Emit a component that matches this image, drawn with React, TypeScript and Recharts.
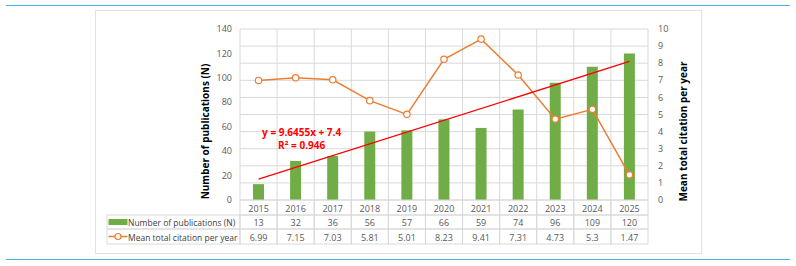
import React from 'react';
import {
  ComposedChart, Bar, Line, XAxis, YAxis, CartesianGrid, ReferenceLine, ReferenceDot,
} from 'recharts';

const years = ['2015', '2016', '2017', '2018', '2019', '2020', '2021', '2022', '2023', '2024', '2025'];
const publications = [13, 32, 36, 56, 57, 66, 59, 74, 96, 109, 120];
const citations = [6.99, 7.15, 7.03, 5.81, 5.01, 8.23, 9.41, 7.31, 4.73, 5.3, 1.47];
const leftTicks = [0, 20, 40, 60, 80, 100, 120, 140];
const rightTicks = [0, 1, 2, 3, 4, 5, 6, 7, 8, 9, 10];
const trendSlope = 9.6455;
const trendIntercept = 7.4;
const trendR2 = '0.946';
const pubLabel = 'Number of publications (N)';
const citLabel = 'Mean total citation per year';

const data = years.map((year, i) => ({ year, publications: publications[i], citations: citations[i] }));
const trendStart = trendSlope * 1 + trendIntercept;
const trendEnd = trendSlope * years.length + trendIntercept;

const GREEN = '#70AD47';
const ORANGE = '#ED7D31';
const RED = '#FF0000';
const GRID = '#d9d9d9';
const TICK = '#595959';
const DARK = '#404040';
const FONT = "'Open Sans', sans-serif";
const LEG_W = 133;

function bandWidth(props: any) {
  const off = props.payload && props.payload.offset;
  if (off) return off * 2;
  return props.width / years.length;
}

function YearTick(props: any) {
  const { x, y, payload } = props;
  const bw = bandWidth(props);
  const h = 15;
  return (
    <g>
      <rect x={x - bw / 2} y={y} width={bw} height={h} fill="none" stroke={GRID} strokeWidth={1} />
      <text x={x} y={y + h / 2 + 0.5} textAnchor="middle" dominantBaseline="central" fontFamily={FONT} fontSize={9} fill={TICK}>
        {payload.value}
      </text>
    </g>
  );
}

function makeRowTick(values: number[], label: string, kind: 'bar' | 'line', h: number) {
  return function RowTick(props: any) {
    const { x, y, payload } = props;
    const idx = payload.index ?? props.index;
    const bw = bandWidth(props);
    const left = x - bw / 2;
    const cy = y + h / 2;
    return (
      <g>
        <rect x={left} y={y} width={bw} height={h} fill="none" stroke={GRID} strokeWidth={1} />
        <text x={x} y={cy + 0.5} textAnchor="middle" dominantBaseline="central" fontFamily={FONT} fontSize={9} fill={TICK}>
          {values[idx]}
        </text>
        {idx === 0 && (
          <g>
            <rect x={left - LEG_W} y={y} width={LEG_W} height={h} fill="none" stroke={GRID} strokeWidth={1} />
            {kind === 'bar' ? (
              <rect x={left - LEG_W + 1.5} y={cy - 3} width={19} height={6} fill={GREEN} />
            ) : (
              <g>
                <line x1={left - LEG_W + 1.5} x2={left - LEG_W + 20.5} y1={cy} y2={cy} stroke={ORANGE} strokeWidth={1.5} />
                <circle cx={left - LEG_W + 11} cy={cy} r={3} fill="#fff" stroke={ORANGE} strokeWidth={1.2} />
              </g>
            )}
            <text x={left - LEG_W + 21} y={cy + 0.5} textAnchor="start" dominantBaseline="central" fontFamily={FONT} fontSize={8.5} fill={DARK}>
              {label}
            </text>
          </g>
        )}
      </g>
    );
  };
}

const PubTick = makeRowTick(publications, pubLabel, 'bar', 14);
const CitTick = makeRowTick(citations, citLabel, 'line', 15);

function AxisTitle(text: string, shift: number) {
  return (p: any) => {
    const { x, y, width, height } = p.viewBox;
    const cx = x + width / 2;
    const cy = y + height / 2 + shift;
    return (
      <text transform={`translate(${cx},${cy}) rotate(-90)`} textAnchor="middle" dominantBaseline="central"
        fontFamily={FONT} fontWeight={700} fontSize={10} fill="#000">
        {text}
      </text>
    );
  };
}

function TrendLabel(p: any) {
  const { x, y, width, height } = p.viewBox;
  const cx = x + width / 2 + 6;
  const cy = y + height / 2;
  return (
    <g fontFamily={FONT} fontWeight={700} fontSize={10} fill={RED}>
      <text x={cx} y={cy - 7} textAnchor="middle" dominantBaseline="central">{`y = ${trendSlope}x + ${trendIntercept}`}</text>
      <text x={cx} y={cy + 6} textAnchor="middle" dominantBaseline="central">{`R² = ${trendR2}`}</text>
    </g>
  );
}

export default function App() {
  return (
    <div style={{ position: 'absolute', left: 0, top: 0, width: 796, height: 266, background: '#fff', overflow: 'hidden' }}>
      <div style={{ position: 'absolute', left: 6, top: 5, width: 784, height: 0, borderTop: '1.5px solid #4bb1e3' }} />
      <div style={{ position: 'absolute', left: 6, top: 258.5, width: 784, height: 0, borderTop: '1.5px solid #4bb1e3' }} />
      <div style={{ position: 'absolute', left: 95, top: 10, width: 605, height: 242, border: '1px solid #e3e3e3', boxShadow: '0 0 1px rgba(0,0,0,0.06)' }} />
      <div style={{ position: 'absolute', left: 0, top: 0 }}>
        <ComposedChart width={796} height={266} data={data} margin={{ top: 29, right: 78, bottom: 22, left: 170 }}>
          <CartesianGrid
            yAxisId="right"
            stroke={GRID}
            strokeWidth={1}
            verticalCoordinatesGenerator={(args: any) => {
              const o = args.offset;
              return years.map((_, i) => o.left + (i * o.width) / years.length).concat([o.left + o.width]);
            }}
          />
          <XAxis dataKey="year" xAxisId={0} height={15} interval={0} tickSize={0} tickMargin={0} axisLine={false} tickLine={false} tick={<YearTick />} />
          <XAxis dataKey="year" xAxisId="r1" height={14} interval={0} tickSize={0} tickMargin={0} axisLine={false} tickLine={false} tick={<PubTick />} />
          <XAxis dataKey="year" xAxisId="r2" height={15} interval={0} tickSize={0} tickMargin={0} axisLine={false} tickLine={false} tick={<CitTick />} />
          <YAxis yAxisId="left" orientation="left" width={70} domain={[0, 140]} ticks={leftTicks} interval={0}
            axisLine={false} tickLine={false} tick={{ fontFamily: FONT, fontSize: 9, fill: TICK }}
            label={{ content: AxisTitle(pubLabel, 17) }} />
          <YAxis yAxisId="right" orientation="right" width={70} domain={[0, 10]} ticks={rightTicks} interval={0}
            axisLine={false} tickLine={false} tickMargin={4} tick={{ fontFamily: FONT, fontSize: 9, fill: TICK }}
            label={{ content: AxisTitle(citLabel, 17) }} />
          <Bar yAxisId="left" dataKey="publications" name={pubLabel} fill={GREEN} barSize={11} isAnimationActive={false} />
          <Line yAxisId="right" dataKey="citations" name={citLabel} stroke={ORANGE} strokeWidth={1.5}
            dot={{ r: 3.2, fill: '#fff', stroke: ORANGE, strokeWidth: 1.2 }} activeDot={false} isAnimationActive={false} />
          <ReferenceLine yAxisId="left" segment={[{ x: years[0], y: trendStart }, { x: years[years.length - 1], y: trendEnd }]}
            stroke={RED} strokeWidth={1.3} />
          <ReferenceDot yAxisId="left" x={years[1]} y={50} r={0} fill="none" stroke="none" label={<TrendLabel />} />
        </ComposedChart>
      </div>
    </div>
  );
}
